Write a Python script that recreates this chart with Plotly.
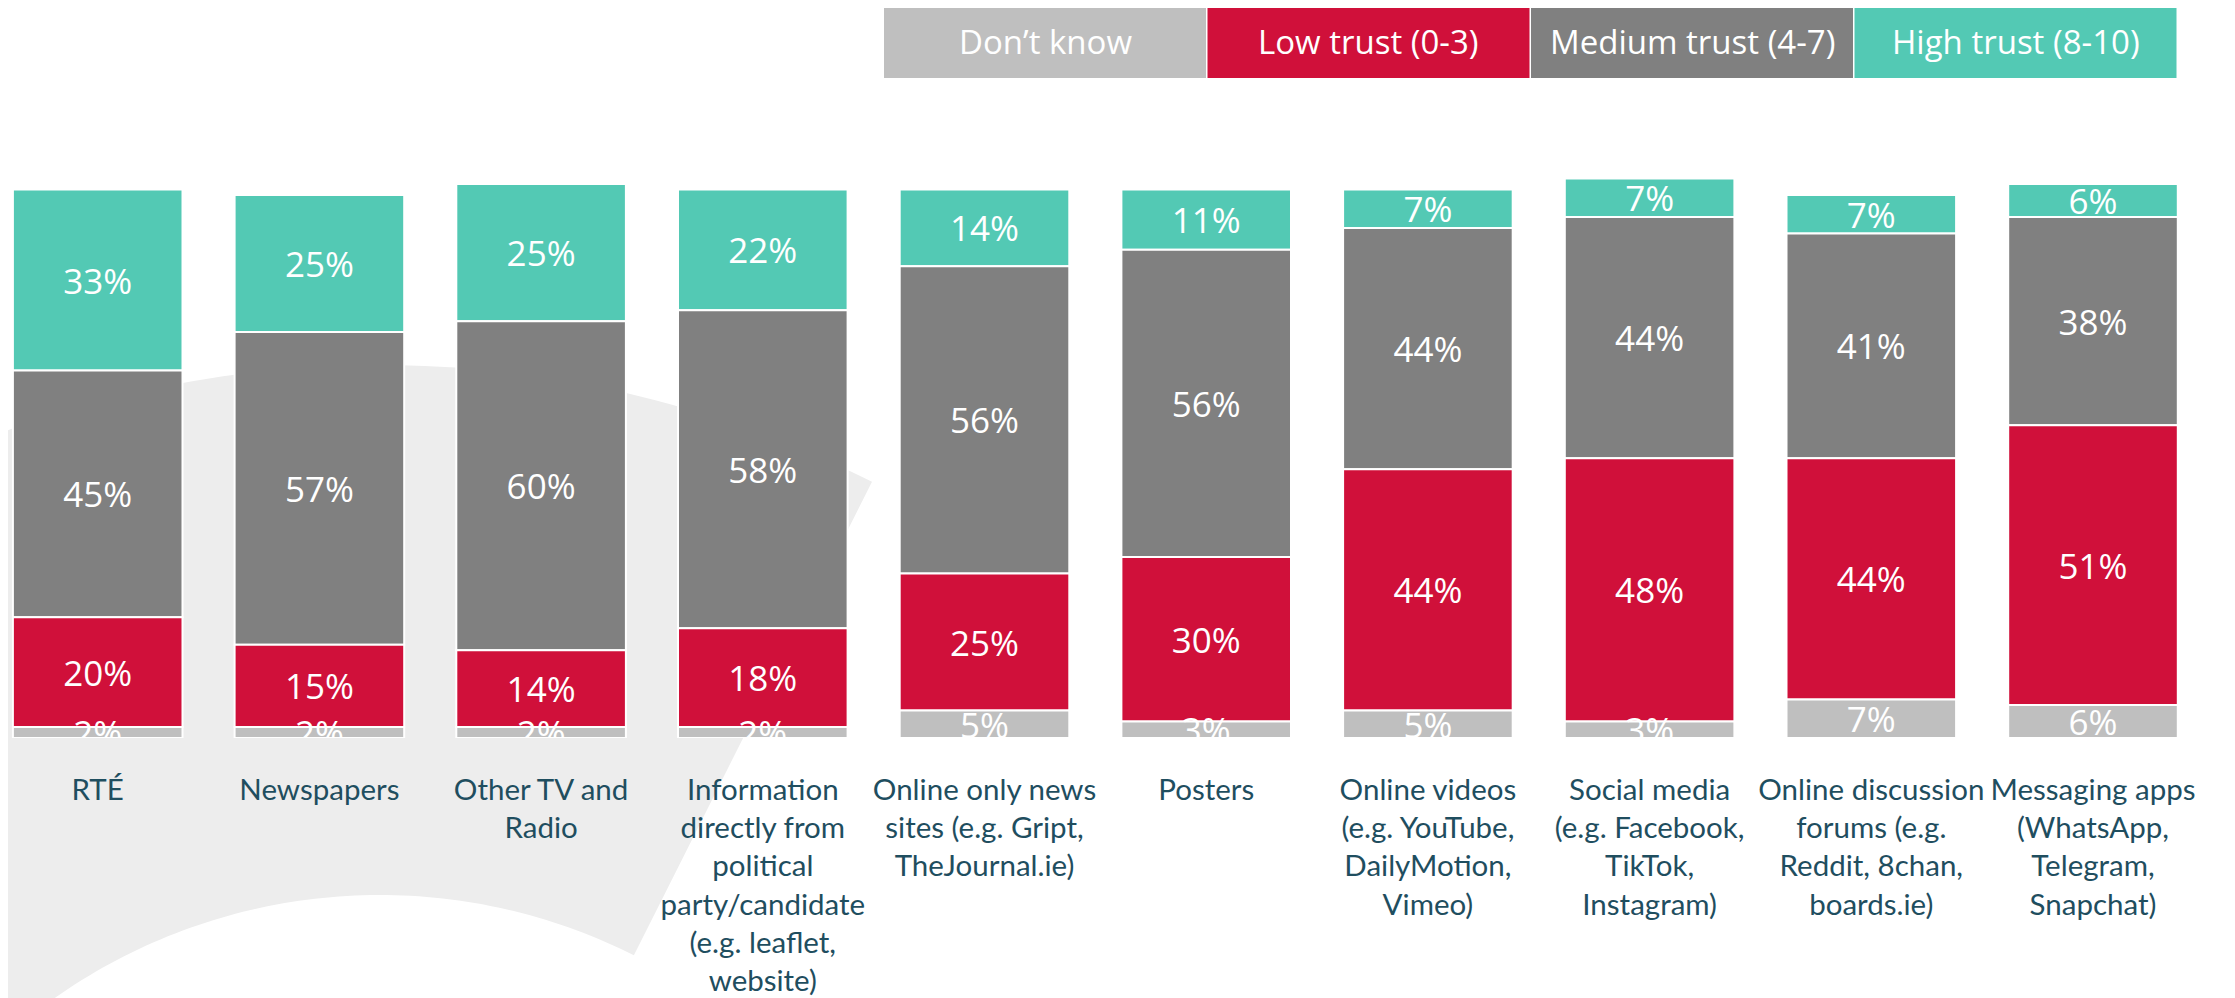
import numpy as np
import plotly.graph_objects as go

# ---------------- data ----------------
categories = ["RTÉ", "Newspapers", "Other TV and Radio",
              "Information directly from political party/candidate (e.g. leaflet, website)",
              "Online only news sites (e.g. Gript, TheJournal.ie)", "Posters",
              "Online videos (e.g. YouTube, DailyMotion, Vimeo)",
              "Social media (e.g. Facebook, TikTok, Instagram)",
              "Online discussion forums (e.g. Reddit, 8chan, boards.ie)",
              "Messaging apps (WhatsApp, Telegram, Snapchat)"]
tick_labels = ["RTÉ", "Newspapers", "Other TV and<br>Radio",
               "Information<br>directly from<br>political<br>party/candidate<br>(e.g. leaflet,<br>website)",
               "Online only news<br>sites (e.g. Gript,<br>TheJournal.ie)", "Posters",
               "Online videos<br>(e.g. YouTube,<br>DailyMotion,<br>Vimeo)",
               "Social media<br>(e.g. Facebook,<br>TikTok,<br>Instagram)",
               "Online discussion<br>forums (e.g.<br>Reddit, 8chan,<br>boards.ie)",
               "Messaging apps<br>(WhatsApp,<br>Telegram,<br>Snapchat)"]

dont_know = [2, 2, 2, 2, 5, 3, 5, 3, 7, 6]
low_trust = [20, 15, 14, 18, 25, 30, 44, 48, 44, 51]
medium_trust = [45, 57, 60, 58, 56, 56, 44, 44, 41, 38]
high_trust = [33, 25, 25, 22, 14, 11, 7, 7, 7, 6]

series_names = ["Don’t know", "Low trust (0-3)", "Medium trust (4-7)", "High trust (8-10)"]
series_values = [dont_know, low_trust, medium_trust, high_trust]
series_colors = ["#BFBFBF", "#D0103A", "#808080", "#53C9B4"]

# ---------------- layout constants ----------------
PAGE_W, PAGE_H = 2235, 998
OFF = 8                      # default body margin of the html page
W, H = PAGE_W - OFF, PAGE_H - OFF
M_L, M_R, M_T, M_B = 0, 0, 92, 260
PLOT_W = W - M_L - M_R
PLOT_H = H - M_T - M_B
PX_PER_CAT = 221.7
FIRST_CENTER_PX = 97.7 - OFF
PX_PER_PCT = 5.485
FONT = "Open Sans"
TICK_FONT = "Lato"
LABEL_COLOR = "#1F4E5F"

x0 = -FIRST_CENTER_PX / PX_PER_CAT
x1 = x0 + PLOT_W / PX_PER_CAT
ytop = PLOT_H / PX_PER_PCT


def px_to_paper(px, py):
    """page pixel -> paper coordinates"""
    fx, fy = px - OFF, py - OFF
    return (fx - M_L) / PLOT_W, (H - M_B - fy) / PLOT_H


fig = go.Figure()
xidx = list(range(len(categories)))
bases = np.cumsum([[0] * len(categories)] + series_values[:-1], axis=0)
# draw top series first so the bottom labels stay visible over the bars above them
order = list(range(len(series_names)))[::-1]
for k in order:
    vals = series_values[k]
    fig.add_trace(go.Bar(
        x=xidx, y=vals, base=[int(b) for b in bases[k]], name=series_names[k],
        marker=dict(color=series_colors[k], line=dict(color="white", width=2)),
        text=[f"{v}%" for v in vals],
        textposition="inside", insidetextanchor="middle",
        textfont=dict(family=FONT, size=35, color="white"),
        constraintext="none",
        hovertext=categories, showlegend=False,
    ))

# ---------------- decorative background ring segment ----------------
cx, cy = 380.0, 1460.0
r_out, r_in = 1095.0, 565.0
a0, a1 = np.deg2rad(-70), np.deg2rad(26.7)
angs = np.linspace(a0, a1, 120)
outer = [(cx + r_out * np.sin(a), cy - r_out * np.cos(a)) for a in angs]
inner = [(cx + r_in * np.sin(a), cy - r_in * np.cos(a)) for a in angs[::-1]]
pts = [px_to_paper(px, py) for px, py in outer + inner]
path = "M " + " L ".join(f"{p[0]:.5f},{p[1]:.5f}" for p in pts) + " Z"
shapes = [dict(type="path", xref="paper", yref="paper", path=path,
               fillcolor="#EDEDED", line=dict(width=0), layer="below")]

# ---------------- legend boxes ----------------
annotations = []
leg_left, leg_w, leg_step = 884.0, 322.0, 323.5
leg_top, leg_bot = 5.0, 78.0
for i, (name, col) in enumerate(zip(series_names, series_colors)):
    lx0 = leg_left + i * leg_step
    px0, py0 = px_to_paper(lx0, leg_bot)
    px1, py1 = px_to_paper(lx0 + leg_w, leg_top)
    shapes.append(dict(type="rect", xref="paper", yref="paper",
                       x0=px0, y0=py0, x1=px1, y1=py1,
                       fillcolor=col, line=dict(width=0), layer="above"))
    annotations.append(dict(xref="paper", yref="paper", x=(px0 + px1) / 2,
                            y=(py0 + py1) / 2, text=name, showarrow=False,
                            xanchor="center", yanchor="middle",
                            font=dict(family=FONT, size=33, color="white")))

fig.update_layout(
    width=W, height=H,
    margin=dict(l=M_L, r=M_R, t=M_T, b=M_B, pad=0, autoexpand=False),
    barmode="overlay", bargap=0.235,
    paper_bgcolor="white", plot_bgcolor="rgba(0,0,0,0)",
    uniformtext=dict(minsize=35, mode="show"),
    shapes=shapes, annotations=annotations,
    showlegend=False,
    font=dict(family=FONT),
)
fig.update_xaxes(range=[x0, x1], tickvals=xidx, ticktext=tick_labels,
                 tickangle=0, automargin=False,
                 showgrid=False, zeroline=False, showline=False, ticks="",
                 ticklabelstandoff=31,
                 tickfont=dict(family=TICK_FONT, size=29.5, color=LABEL_COLOR))
fig.update_yaxes(range=[0, ytop], visible=False, showgrid=False, zeroline=False,
                 automargin=False)

fig.write_html("out.html", config={"displayModeBar": False})
